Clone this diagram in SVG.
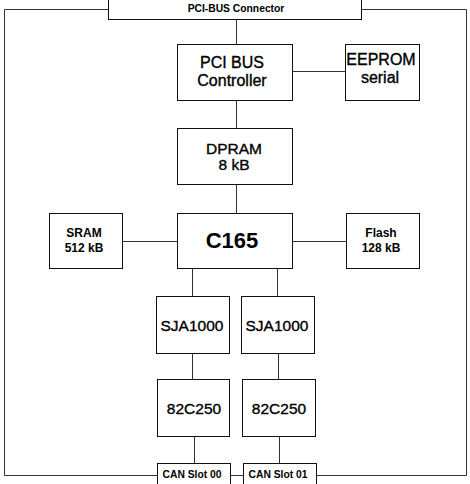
<svg xmlns="http://www.w3.org/2000/svg" width="470" height="484" viewBox="0 0 470 484">
<style>
rect{fill:#fff;stroke:#111;stroke-width:1}
.c line,.c polyline{stroke:#333;stroke-width:1;fill:none}
text{font-family:"Liberation Sans",Arial,sans-serif;fill:#000;text-anchor:middle}
.m{font-size:15.5px;stroke:#000;stroke-width:0.35}
.e{font-size:16px;stroke:#000;stroke-width:0.35}
.s{font-size:12px;font-weight:bold}
.t{font-size:10.3px;font-weight:bold}
.x{font-size:22px;font-weight:bold}
</style>
<rect width="470" height="484" style="stroke:none;fill:#fff"/>
<g class="c" id="connectors">
<polyline points="108.5,9.5 4.5,9.5 4.5,475.5 157.5,475.5"/>
<polyline points="361.5,9.5 466.5,9.5 466.5,475.5 316.5,475.5"/>
<line x1="230.5" y1="475.5" x2="243.5" y2="475.5"/>
<line x1="236.5" y1="19.5" x2="236.5" y2="44.5"/>
<line x1="292.5" y1="71.5" x2="345.5" y2="71.5"/>
<line x1="236.5" y1="100.5" x2="236.5" y2="128.5"/>
<line x1="236.5" y1="184.5" x2="236.5" y2="213.5"/>
<line x1="122.5" y1="241.5" x2="177.5" y2="241.5"/>
<line x1="292.5" y1="241.5" x2="346.5" y2="241.5"/>
<line x1="192.5" y1="268.5" x2="192.5" y2="296.5"/>
<line x1="277.5" y1="268.5" x2="277.5" y2="296.5"/>
<line x1="192.5" y1="353.5" x2="192.5" y2="379.5"/>
<line x1="278.5" y1="353.5" x2="278.5" y2="379.5"/>
<line x1="194.5" y1="436.5" x2="194.5" y2="463.5"/>
<line x1="279.5" y1="436.5" x2="279.5" y2="463.5"/>
</g>
<g id="pci-connector"><rect x="108.5" y="-5.5" width="253" height="25"/><text class="t" x="236" y="12">PCI-BUS Connector</text></g>
<g id="pci-controller"><rect x="177.5" y="44.5" width="115" height="56"/><text class="e" x="232" y="68">PCI BUS</text><text class="e" x="232" y="86">Controller</text></g>
<g id="eeprom"><rect x="345.5" y="44.5" width="74" height="56"/><text class="e" x="381" y="65">EEPROM</text><text class="e" x="380" y="83">serial</text></g>
<g id="dpram"><rect x="177.5" y="128.5" width="115" height="56"/><text class="m" x="234" y="154">DPRAM</text><text class="m" x="234" y="170">8 kB</text></g>
<g id="c165"><rect x="177.5" y="213.5" width="115" height="55"/><text class="x" x="232" y="248">C165</text></g>
<g id="sram"><rect x="49.5" y="213.5" width="73" height="55"/><text class="s" x="84" y="237">SRAM</text><text class="s" x="84" y="252">512 kB</text></g>
<g id="flash"><rect x="346.5" y="213.5" width="73" height="55"/><text class="s" x="381" y="237">Flash</text><text class="s" x="381" y="252">128 kB</text></g>
<g id="sja1"><rect x="156.5" y="296.5" width="73" height="57"/><text class="m" x="192" y="331">SJA1000</text></g>
<g id="sja2"><rect x="241.5" y="296.5" width="73" height="57"/><text class="m" x="277" y="331">SJA1000</text></g>
<g id="tr1"><rect x="157.5" y="379.5" width="72" height="57"/><text class="m" x="194" y="414">82C250</text></g>
<g id="tr2"><rect x="242.5" y="379.5" width="73" height="57"/><text class="m" x="279" y="414">82C250</text></g>
<g id="can0"><rect x="157.5" y="463.5" width="73" height="30"/><text class="t" x="192" y="477.5">CAN Slot 00</text></g>
<g id="can1"><rect x="243.5" y="463.5" width="73" height="30"/><text class="t" x="278" y="477.5">CAN Slot 01</text></g>
</svg>
